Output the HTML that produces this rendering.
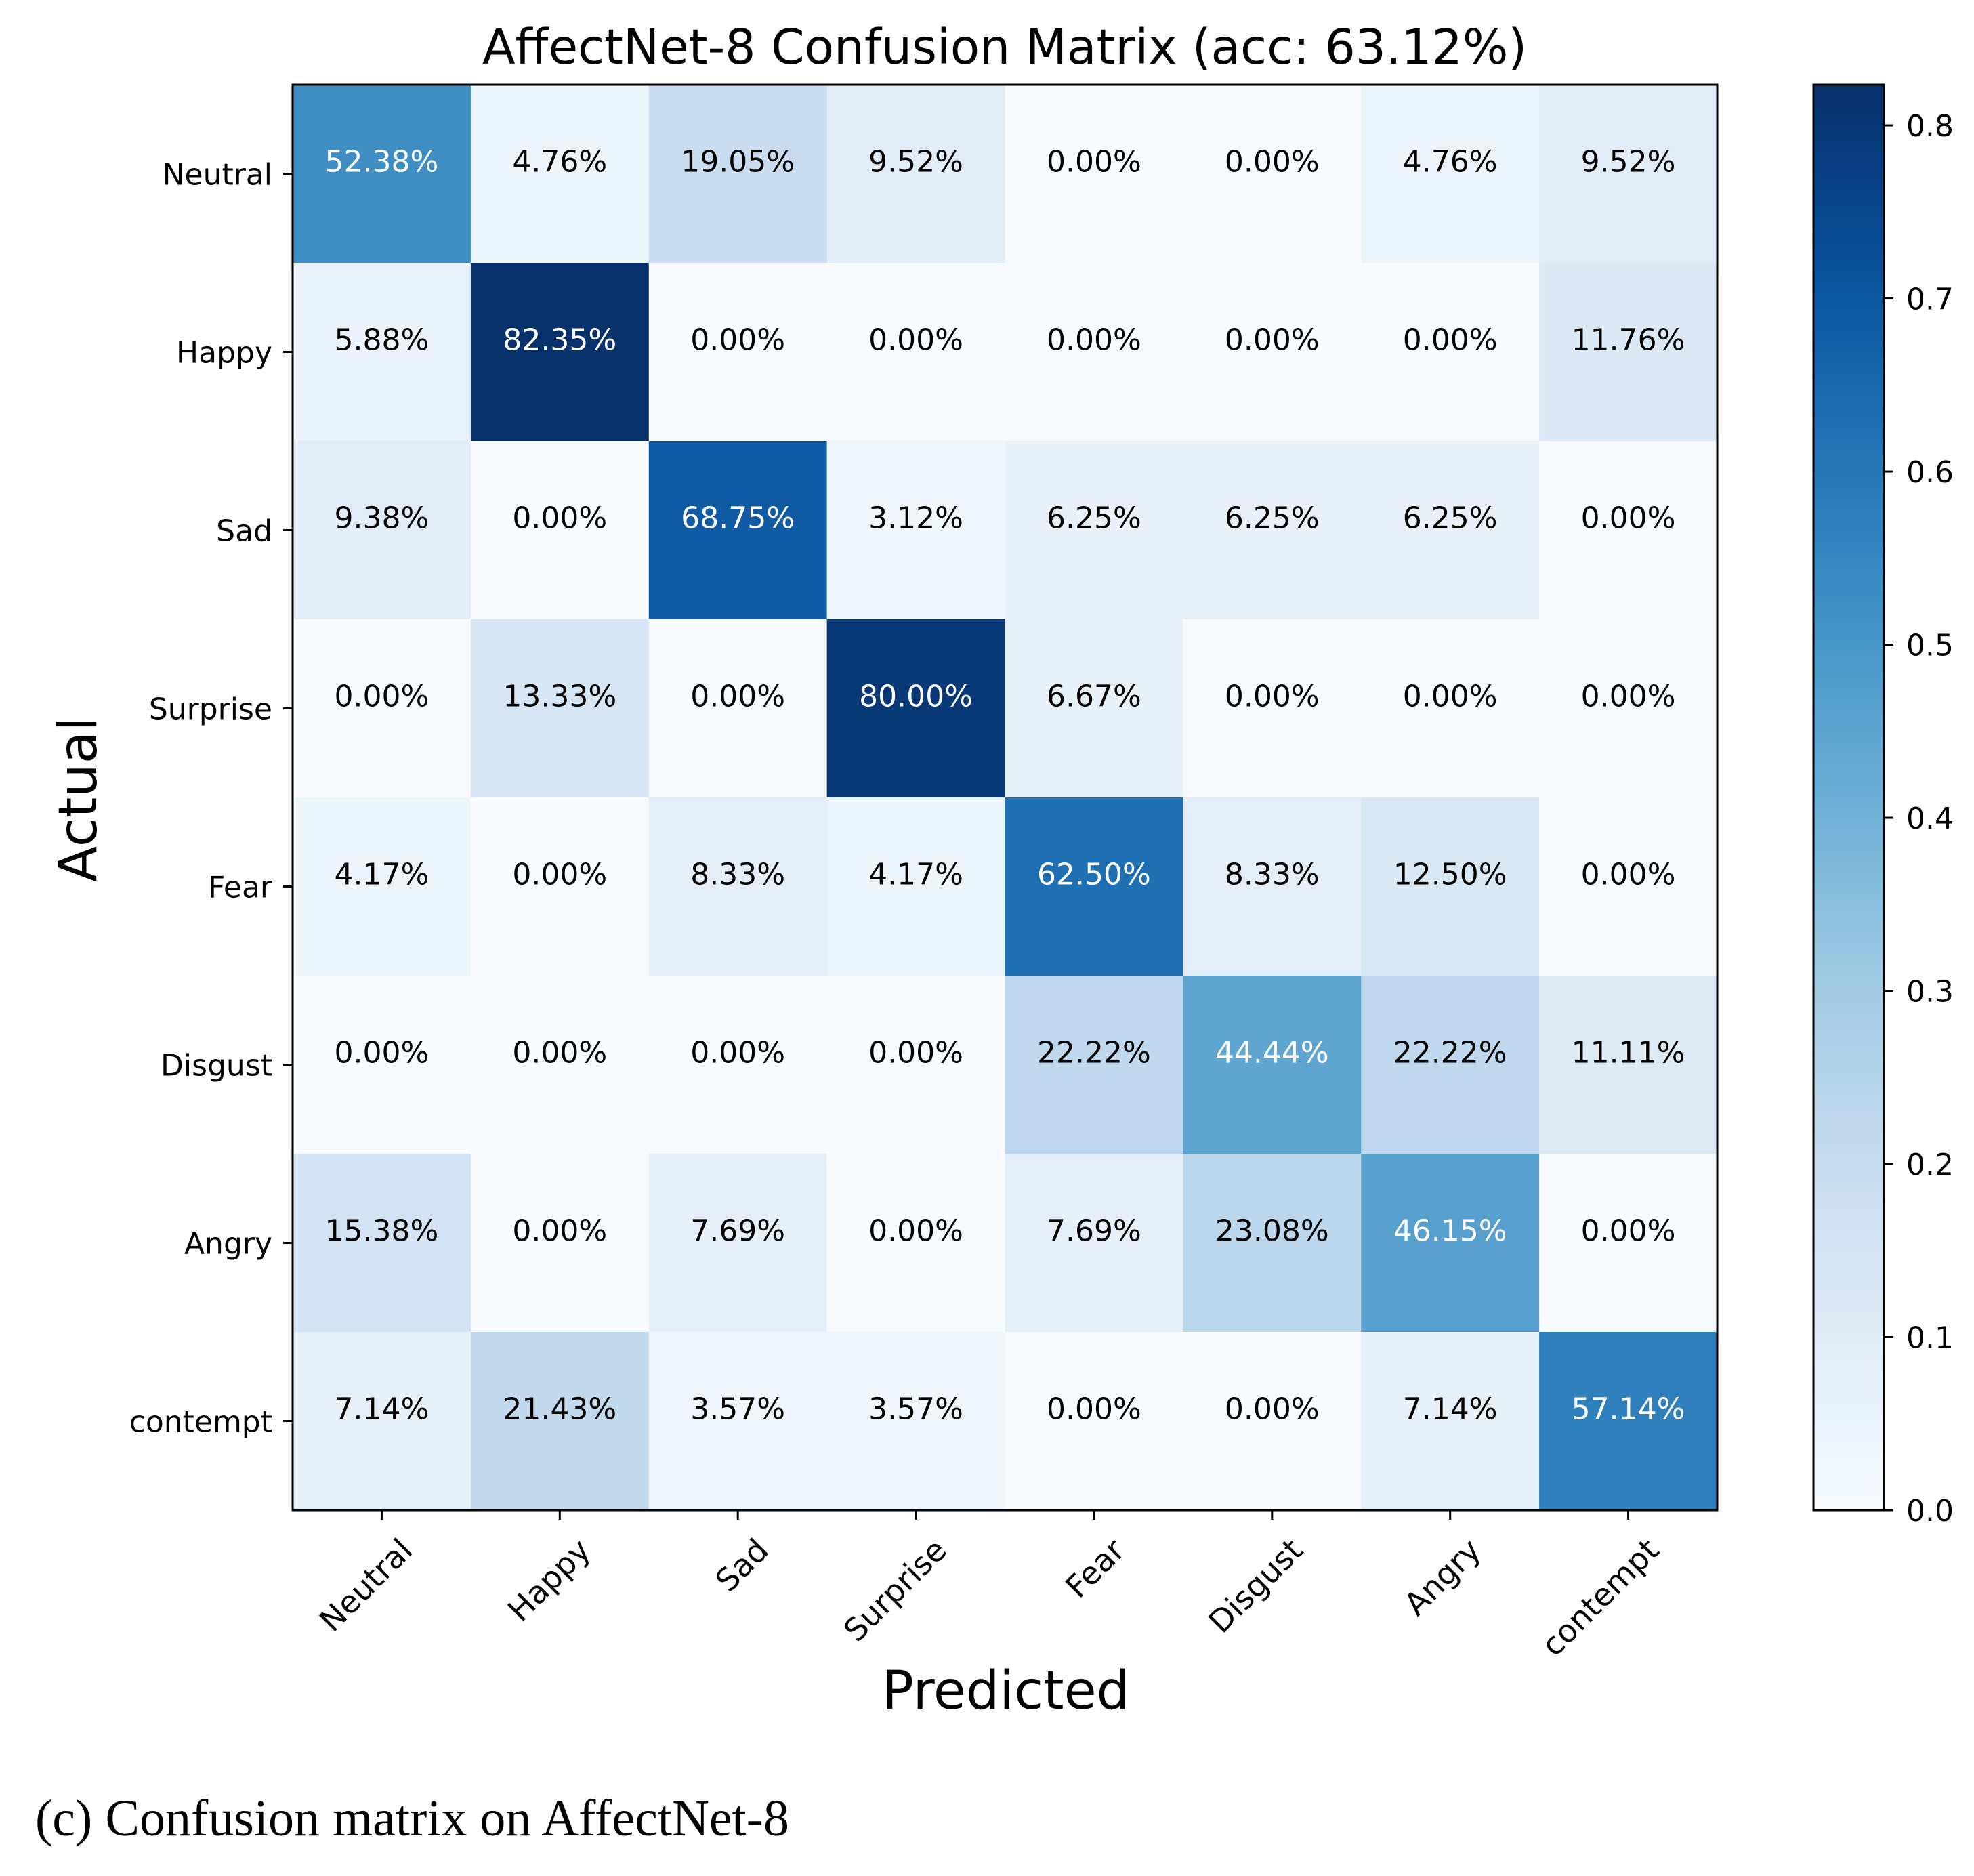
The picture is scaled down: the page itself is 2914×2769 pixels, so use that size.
<!DOCTYPE html>
<html><head><meta charset="utf-8"><style>
html,body{margin:0;padding:0;background:#fff;}
svg{display:block;}
</style></head><body>
<svg id="chart" width="2914" height="2769" viewBox="0 0 2914 2769" xmlns="http://www.w3.org/2000/svg" font-family="'DejaVu Sans', 'Liberation Sans', sans-serif">
<rect x="0" y="0" width="2914" height="2769" fill="#fff"/>
<text x="1483" y="94" font-size="71" text-anchor="middle" fill="#000">AffectNet-8 Confusion Matrix (acc: 63.12%)</text>
<g id="cells"></g>
<rect x="432" y="125" width="2103" height="2104" fill="none" stroke="#000" stroke-width="3"/>
<g id="axes"></g>
<defs>
<linearGradient id="cbgrad" x1="0" y1="1" x2="0" y2="0"></linearGradient>
</defs>
<rect x="2677" y="125" width="104" height="2104" fill="url(#cbgrad)" stroke="#000" stroke-width="3"/>
<g id="cbticks"></g>
<text x="0" y="0" font-size="78" text-anchor="middle" transform="translate(142,1180) rotate(-90)">Actual</text>
<text x="1485" y="2522" font-size="78" text-anchor="middle">Predicted</text>
<text x="52" y="2709" font-size="76" font-family="'Liberation Serif', serif">(c) Confusion matrix on AffectNet-8</text>
</svg>
<script>
const categories = ["Neutral","Happy","Sad","Surprise","Fear","Disgust","Angry","contempt"];
const rowNeutral  = [52.38,4.76,19.05,9.52,0.00,0.00,4.76,9.52];
const rowHappy    = [5.88,82.35,0.00,0.00,0.00,0.00,0.00,11.76];
const rowSad      = [9.38,0.00,68.75,3.12,6.25,6.25,6.25,0.00];
const rowSurprise = [0.00,13.33,0.00,80.00,6.67,0.00,0.00,0.00];
const rowFear     = [4.17,0.00,8.33,4.17,62.50,8.33,12.50,0.00];
const rowDisgust  = [0.00,0.00,0.00,0.00,22.22,44.44,22.22,11.11];
const rowAngry    = [15.38,0.00,7.69,0.00,7.69,23.08,46.15,0.00];
const rowContempt = [7.14,21.43,3.57,3.57,0.00,0.00,7.14,57.14];
const matrix = [rowNeutral,rowHappy,rowSad,rowSurprise,rowFear,rowDisgust,rowAngry,rowContempt];
const colorbarTicks = [0.0,0.1,0.2,0.3,0.4,0.5,0.6,0.7,0.8];

const NS="http://www.w3.org/2000/svg";
const L=432,R=2535,T=125,B=2229;
const n=categories.length;
const cw=(R-L)/n, ch=(B-T)/n;
let vmax=0; matrix.forEach(r=>r.forEach(v=>{if(v/100>vmax)vmax=v/100;}));
const blues=[[247,251,255],[222,235,247],[198,219,239],[158,202,225],[107,174,214],[66,146,198],[33,113,181],[8,81,156],[8,48,107]];
function cmap(t){t=Math.max(0,Math.min(1,t));const p=t*(blues.length-1);const i=Math.min(Math.floor(p),blues.length-2);const f=p-i;const a=blues[i],b=blues[i+1];return `rgb(${Math.round(a[0]+(b[0]-a[0])*f)},${Math.round(a[1]+(b[1]-a[1])*f)},${Math.round(a[2]+(b[2]-a[2])*f)})`;}
function xs(j){return L+j*cw;}
function ys(i){return T+i*ch;}
function mk(tag,attrs,parent){const e=document.createElementNS(NS,tag);for(const k in attrs)e.setAttribute(k,attrs[k]);parent.appendChild(e);return e;}
const cells=document.getElementById('cells');
matrix.forEach((row,i)=>row.forEach((v,j)=>{
  const r=mk('rect',{x:xs(j),y:ys(i),width:cw+0.5,height:ch+0.5,fill:cmap(v/100/vmax)},cells);
  
  
  const t=mk('text',{x:xs(j)+cw/2,y:ys(i)+ch/2-3,'font-size':44,'text-anchor':'middle',fill:(v/100>vmax/2)?'#fff':'#000'},cells);
  t.textContent=v.toFixed(2)+'%';
  
  
}));
const axes=document.getElementById('axes');
categories.forEach((c,i)=>{
  const y=ys(i)+ch/2;
  mk('line',{x1:L-14,x2:L,y1:y,y2:y,stroke:'#000','stroke-width':3},axes);
  const t=mk('text',{x:L-30,y:y+16,'font-size':44,'text-anchor':'end'},axes);
  t.textContent=c;
  
  
  const x=xs(i)+cw/2;
  mk('line',{x1:x,x2:x,y1:B,y2:B+14,stroke:'#000','stroke-width':3},axes);
  const tx=mk('text',{x:0,y:0,'font-size':46,'text-anchor':'end',transform:`translate(${x+48},${B+62}) rotate(-45)`},axes);
  tx.textContent=c;
  
  
});
const grad=document.getElementById('cbgrad');
for(let k=0;k<=20;k++){mk('stop',{offset:(k/20),'stop-color':cmap(k/20)},grad);}
const cb=document.getElementById('cbticks');
colorbarTicks.forEach(v=>{
  const y=B-(v/vmax)*(B-T);
  mk('line',{x1:2781,x2:2795,y1:y,y2:y,stroke:'#000','stroke-width':3},cb);
  const t=mk('text',{x:2814,y:y+16,'font-size':44},cb);
  t.textContent=v.toFixed(1);
  
  
});
</script>
</body></html>
